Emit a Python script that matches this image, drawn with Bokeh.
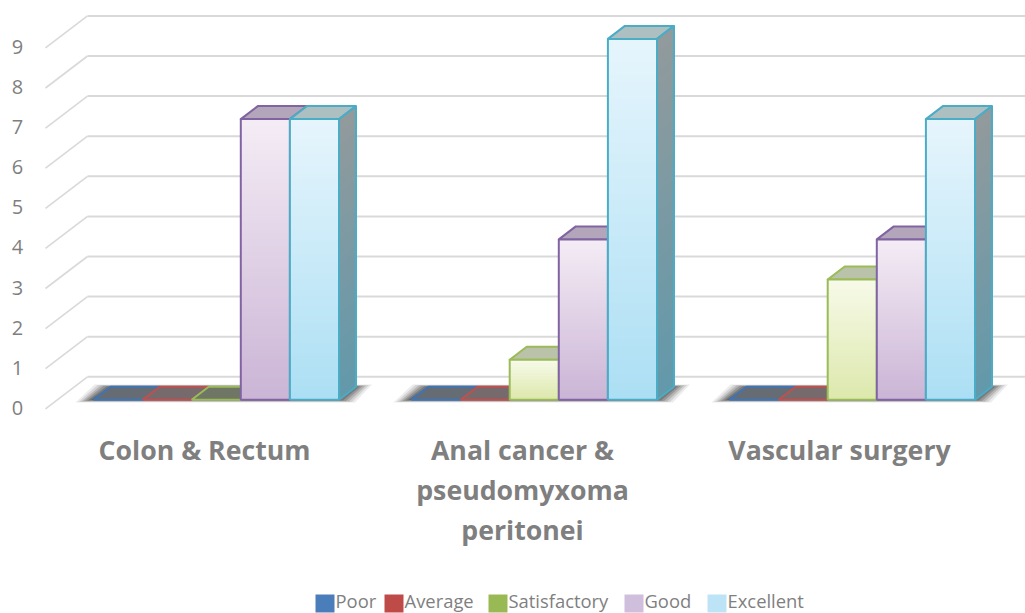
from bokeh.plotting import figure
from bokeh.models import Range1d
from bokeh.core.properties import value
from bokeh.embed import file_html
from bokeh.resources import INLINE

categories = ["Colon & Rectum", "Anal cancer &\npseudomyxoma\nperitonei", "Vascular surgery"]
series_names = ["Poor", "Average", "Satisfactory", "Good", "Excellent"]
poor = [0, 0, 0]
average = [0, 0, 0]
satisfactory = [0, 1, 3]
good = [7, 4, 4]
excellent = [7, 9, 7]
y_ticks = [0, 1, 2, 3, 4, 5, 6, 7, 8, 9]

series_values = [poor, average, satisfactory, good, excellent]
edge = ["#3F74B5", "#C0504D", "#9BBB59", "#8064A2", "#4BACC6"]
swatch = ["#4A7EBB", "#BE4B48", "#98B954", "#D0BEDD", "#BDE4F6"]
grad_top = ["#4F81BD", "#C0504D", "#F6FAE8", "#F4ECF5", "#E6F5FC"]
grad_bot = ["#4F81BD", "#C0504D", "#DDE8AD", "#CBB5D6", "#ACDFF4"]
top_face = ["#666C74", "#776A6C", "#BAC3A9", "#B3A6BA", "#AEBFC1"]
side_top = "#929A9C"
side_bot = "#6299AB"
zero_fill = ["#666C74", "#776A6C", "#6F7666", "#6F6A75", "#666F75"]

W, H = 1025, 613
UNIT = 40.1          # pixels per value unit
Y0 = 399.3           # pixel of value 0 at the front of the bars
STEP = 318           # pixels between groups
X0 = 93              # pixel of first bar
BAR = 49.1           # pixels of a bar
DX, DY = 17, 13      # bar depth

def xd(px):
    return (px - X0) / STEP
def yd(py):
    return (Y0 - py) / UNIT

p = figure(width=W, height=H, output_backend="svg", toolbar_location=None,
           x_range=Range1d(xd(0), xd(W)), y_range=Range1d(yd(H), yd(0)),
           min_border=0, outline_line_color=None)
p.axis.visible = False
p.grid.visible = False

dx, dy, bw = DX / STEP, DY / UNIT, BAR / STEP

def mix(c1, c2, t):
    a = [int(c1[i:i + 2], 16) for i in (1, 3, 5)]
    b = [int(c2[i:i + 2], 16) for i in (1, 3, 5)]
    return "#%02x%02x%02x" % tuple(round(a[i] + (b[i] - a[i]) * t) for i in range(3))

# wall grid
wall_dx, wall_dy = 42 / STEP, 32 / UNIT
back0 = 23 / UNIT
for v in y_ticks:
    yb = v + back0
    p.line([xd(87), xd(W)], [yb, yb], line_color="#D9D9D9", line_width=2)
    p.line([xd(87) - wall_dx, xd(87)], [yb - wall_dy, yb], line_color="#D9D9D9", line_width=1.6)

# floor shadow
for g in range(len(categories)):
    xa = g + 5 * bw
    for grow, alpha in [(16, .10), (13, .14), (10, .2), (7, .26), (4, .32), (1, .4)]:
        gx, gy = grow / STEP, grow * .35 / UNIT
        p.patch([g - gx - 2 / STEP, xa + gx, xa + dx + gx, g + dx - gx],
                [-gy * .5, -gy * .5, dy + gy * .4, dy + gy * .4],
                fill_color="#404040", fill_alpha=alpha, line_color=None)

# bars, back to front
for g in range(len(categories)):
    for s, vals in enumerate(series_values):
        v = vals[g]
        x1 = g + s * bw
        x2 = x1 + bw
        if v == 0:
            p.patch([x1, x2, x2 + dx, x1 + dx], [0, 0, dy, dy], fill_color=zero_fill[s],
                    line_color=edge[s], line_width=2)
            continue
        # top face
        p.patch([x1, x2, x2 + dx, x1 + dx], [v, v, v + dy, v + dy], fill_color=top_face[s],
                line_color=edge[s], line_width=2, line_join="round")
        # side face (only the last bar of a group shows one)
        if s == len(series_values) - 1:
            n = max(8, int(v * 6))
            for i in range(n):
                yt = v * (1 - i / n)
                p.patch([x2, x2 + dx, x2 + dx, x2], [yt, yt + dy, dy, 0],
                        fill_color=mix(side_top, side_bot, i / (n - 1)), line_color=None)
            p.patch([x2, x2 + dx, x2 + dx, x2], [v, v + dy, dy, 0], fill_color=None,
                    line_color=edge[s], line_width=2)
        # front face gradient
        n = max(8, int(v * 12))
        for i in range(n):
            yt = v * (1 - i / n)
            p.quad(left=x1, right=x2, top=yt, bottom=0,
                   fill_color=mix(grad_top[s], grad_bot[s], i / (n - 1)), line_color=None)
        p.quad(left=x1, right=x2, top=v, bottom=0, fill_color=None,
               line_color=edge[s], line_width=2)

# value labels
p.text([xd(17)] * len(y_ticks), y_ticks, text=[str(t) for t in y_ticks],
       text_font=value("Open Sans"), text_font_size="20px", text_color="#7F7F7F",
       text_align="center", text_baseline="middle", y_offset=8)

# category labels
centres = [204, 522, 839]
for g, c in enumerate(categories):
    for j, line in enumerate(c.split("\n")):
        p.text([xd(centres[g])], [yd(448.5 + j * 40.3)], text=[line],
               text_font=value("Open Sans"), text_font_style="bold", text_font_size="26.7px",
               text_color="#7F7F7F", text_align="center", text_baseline="middle")

# legend
sw_x = [315, 384, 488, 624, 707]
for s, name in enumerate(series_names):
    p.quad(left=xd(sw_x[s]), right=xd(sw_x[s] + 19), top=yd(594), bottom=yd(612),
           fill_color=swatch[s], line_color=None)
    p.text([xd(sw_x[s] + 20)], [yd(599.5)], text=[name], text_font=value("Open Sans"),
           text_font_size="18.4px", text_color="#7F7F7F", text_align="left", text_baseline="middle")

open("out.html", "w").write(file_html(p, INLINE))
